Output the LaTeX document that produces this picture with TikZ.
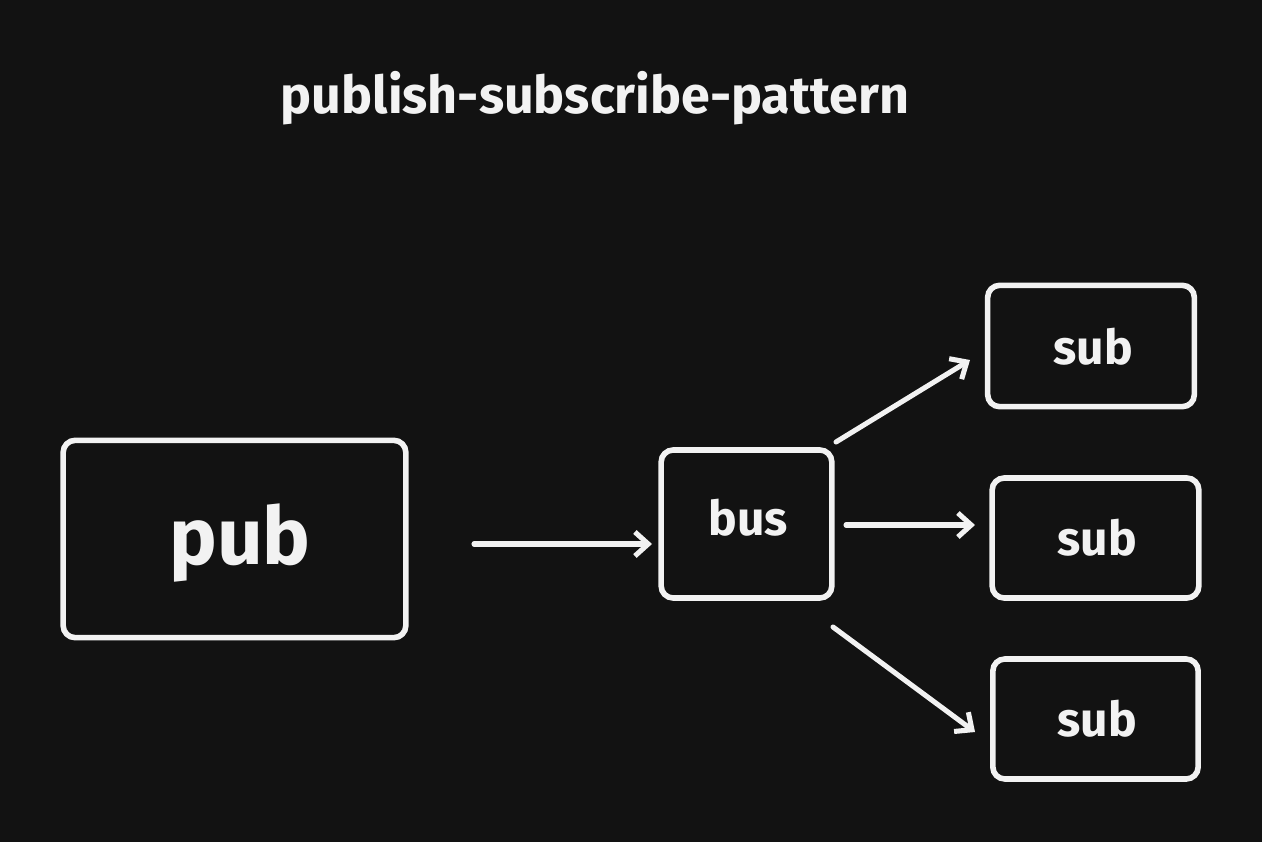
\documentclass[tikz,border=0pt]{standalone}
\usepackage{fontspec}
\setmainfont{Fira Sans}
\usetikzlibrary{arrows.meta}
\definecolor{bg}{HTML}{121212}
\definecolor{fg}{HTML}{F2F2F2}
\begin{document}
\begin{tikzpicture}[x=0.75pt,y=-0.75pt,
  box/.style={draw=fg,line width=4.2pt,rounded corners=9pt,inner sep=0pt},
  arr/.style={draw=fg,line width=3.8pt,line cap=round,-{Straight Barb[length=10pt,width=18pt,line width=3.8pt]}},
  lbl/.style={text=fg,font=\fontsize{36}{42}\selectfont\bfseries}]
\fill[bg] (0,0) rectangle (1262,842);
\useasboundingbox (0,0) rectangle (1262,842);
\node[text=fg,font=\fontsize{39}{46}\selectfont\bfseries] (title) at (595,98) {publish-subscribe-pattern};
\node[box,minimum width=257pt,minimum height=148pt] (pub) at (234.5,539) {};
\node[lbl,font=\fontsize{60}{70}\selectfont\bfseries] (publ) at (240,543) {pub};
\node[box,minimum width=128pt,minimum height=111pt] (bus) at (746.5,524) {};
\node[lbl] (busl) at (748,518) {bus};
\node[box,minimum width=155pt,minimum height=91pt] (s1) at (1091,346) {};
\node[lbl] at (1093,347) (s1l) {sub};
\node[box,minimum width=155pt,minimum height=90pt] (s2) at (1095.5,538) {};
\node[lbl] at (1097,538) (s2l) {sub};
\node[box,minimum width=154pt,minimum height=90pt] (s3) at (1095.5,719) {};
\node[lbl] at (1097,719) (s3l) {sub};
\coordinate (a0) at (474,544); \coordinate (a1) at (652,544);
\coordinate (b0) at (836,442); \coordinate (b1) at (970,360);
\coordinate (c0) at (846,525); \coordinate (c1) at (975,525);
\coordinate (d0) at (833,627); \coordinate (d1) at (975,732);
\draw[arr] (a0) -- (a1);
\draw[arr] (b0) -- (b1);
\draw[arr] (c0) -- (c1);
\draw[arr] (d0) -- (d1);
\end{tikzpicture}
\end{document}
